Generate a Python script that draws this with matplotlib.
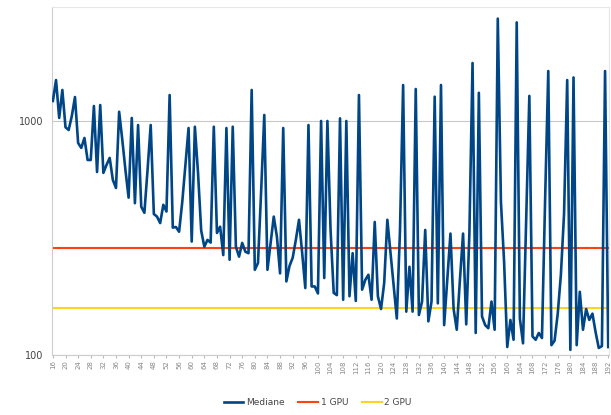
import matplotlib
matplotlib.use("Agg")
import matplotlib.pyplot as plt
from matplotlib.ticker import FixedLocator, FixedFormatter, NullLocator

# categories (x axis), labels shown every 4th
sizes = list(range(16, 193))

mediane = [
    1218, 1496, 1030, 1357, 940, 915, 1050, 1266, 805, 767,
    846, 681, 681, 1159, 605, 1170, 600, 649, 695, 560,
    517, 1095, 830, 616, 470, 1030, 445, 961, 430, 405,
    617, 961, 400, 390, 366, 438, 410, 1291, 350, 352,
    336, 450, 650, 933, 305, 945, 600, 340, 290, 310,
    302, 945, 332, 353, 267, 933, 255, 945, 290, 263,
    301, 276, 272, 1357, 231, 247, 500, 1061, 231, 300,
    390, 320, 223, 933, 206, 240, 260, 310, 378, 273,
    193, 961, 196, 196, 183, 1000, 213, 1000, 342, 184,
    180, 1026, 172, 1000, 178, 272, 170, 1291, 190, 209,
    220, 172, 370, 178, 157, 203, 378, 273, 195, 143,
    338, 1425, 153, 238, 153, 1370, 148, 169, 342, 139,
    169, 1270, 166, 1425, 134, 209, 330, 157, 128, 209,
    330, 135, 330, 1770, 124, 1320, 146, 134, 130, 169,
    128, 2740, 450, 250, 108, 141, 116, 2640, 143, 112,
    378, 1280, 120, 116, 124, 118, 460, 1635, 110, 115,
    150, 220, 400, 1496, 105, 1535, 110, 186, 128, 157,
    141, 150, 125, 107, 109, 1635, 108,
]
gpu1 = 286
gpu2 = 158

fig = plt.figure(figsize=(6.11, 4.15), dpi=100)
ax = fig.add_axes([0.085, 0.145, 0.912, 0.838])

x = list(range(len(sizes)))
ax.plot(x, mediane, color="#004586", linewidth=1.9, label="Mediane", zorder=3)
ax.plot([x[0], x[-1]], [gpu1, gpu1], color="#ff420e", linewidth=1.5, label="1 GPU", zorder=2)
ax.plot([x[0], x[-1]], [gpu2, gpu2], color="#ffd320", linewidth=1.5, label="2 GPU", zorder=2)

ax.set_yscale("log")
ax.set_ylim(100, 3070)
ax.set_xlim(-0.3, len(sizes) - 0.7)

ax.yaxis.set_major_locator(FixedLocator([100, 1000]))
ax.yaxis.set_major_formatter(FixedFormatter(["100", "1000"]))
ax.yaxis.set_minor_locator(NullLocator())
ax.grid(axis="y", color="#c8c8c8", linewidth=0.8)

ticks = x[::4]
ax.set_xticks(ticks)
ax.set_xticklabels([str(s) for s in sizes[::4]], rotation=90, fontsize=5, color="#888888")
ax.tick_params(axis="x", length=2, color="#bbbbbb", pad=2)
ax.tick_params(axis="y", length=0, labelsize=7, colors="#444444", pad=6)

for side in ["top", "right"]:
    ax.spines[side].set_color("#e6e6e6")
for side in ["left", "bottom"]:
    ax.spines[side].set_color("#cccccc")

fig.legend(loc="lower center", bbox_to_anchor=(0.52, 0.0), ncol=3, frameon=False,
           fontsize=6.5, handlelength=2.2, columnspacing=1.5, handletextpad=0.3,
           labelcolor="#444444")

fig.savefig("out.png", dpi=100)
